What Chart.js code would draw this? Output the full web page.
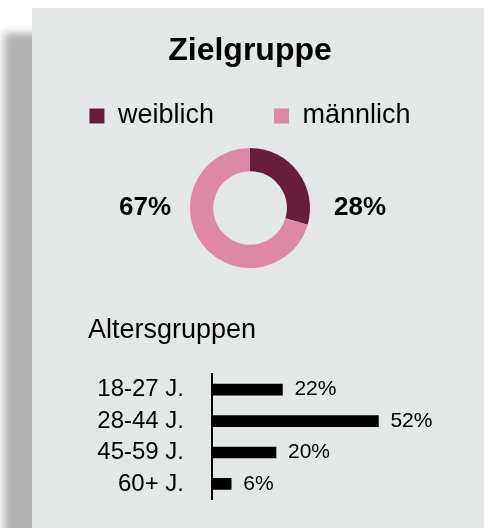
<!DOCTYPE html>
<html>
<head>
<meta charset="utf-8">
<script src="https://cdn.jsdelivr.net/npm/chart.js"></script>
<style>
  body { margin: 0; width: 484px; height: 528px; background: #fff; position: relative; overflow: hidden; }
  #panel { position: absolute; left: 32px; top: 8px; right: 0; bottom: 0; background: #e4e7e8; box-shadow: -28px 25px 8px #b2b2b2; }
  canvas { position: absolute; left: 0; }
  #zielgruppe { top: 0; }
  #alter { top: 290px; }
</style>
</head>
<body>
<div id="panel"></div>
<canvas id="zielgruppe" width="484" height="290"></canvas>
<canvas id="alter" width="484" height="252"></canvas>
<script>
// Daten
var geschlechtLabels = ["weiblich", "männlich"];
var geschlechtWerte = [28, 67];
var geschlechtFarben = ["#671e3a", "#de88a8"];

var alterLabels = ["18-27 J.", "28-44 J.", "45-59 J.", "60+ J."];
var alterWerte = [22, 52, 20, 6];

Chart.defaults.font.family = "'Liberation Sans', Arial, sans-serif";
Chart.defaults.color = "#000";

// Prozentwerte links/rechts vom Ring
var ringLabels = {
  id: 'ringLabels',
  afterDraw: function(chart) {
    var arc = chart.getDatasetMeta(0).data[0];
    if (!arc) return;
    var ctx = chart.ctx;
    var werte = chart.data.datasets[0].data;
    ctx.save();
    ctx.font = "bold 26px 'Liberation Sans', Arial, sans-serif";
    ctx.fillStyle = "#000";
    ctx.textBaseline = 'middle';
    ctx.textAlign = 'right';
    ctx.fillText(werte[1] + '%', arc.x - arc.outerRadius - 19, arc.y);
    ctx.textAlign = 'left';
    ctx.fillText(werte[0] + '%', arc.x + arc.outerRadius + 24, arc.y);
    ctx.restore();
  }
};

new Chart(document.getElementById("zielgruppe"), {
  type: 'doughnut',
  data: {
    labels: geschlechtLabels,
    datasets: [{
      data: geschlechtWerte,
      backgroundColor: geschlechtFarben,
      borderWidth: 0,
      hoverOffset: 0,
      radius: 60,
      cutout: 42
    }]
  },
  options: {
    responsive: false,
    animation: false,
    layout: { padding: { left: 16, right: 0, top: 0, bottom: 13.5 } },
    plugins: {
      title: {
        display: true,
        text: 'Zielgruppe',
        color: '#000',
        font: { size: 32, weight: 'bold' },
        padding: { top: 31.8, bottom: -27.7 }
      },
      legend: {
        position: 'top',
        labels: {
          boxWidth: 15,
          boxHeight: 15,
          padding: 60,
          color: '#000',
          font: { size: 27 }
        }
      },
      tooltip: { enabled: false }
    }
  },
  plugins: [ringLabels]
});

// Werte hinter den Balken
var balkenWerte = {
  id: 'balkenWerte',
  afterDatasetsDraw: function(chart) {
    var ctx = chart.ctx;
    var meta = chart.getDatasetMeta(0);
    var werte = chart.data.datasets[0].data;
    ctx.save();
    ctx.font = "21px 'Liberation Sans', Arial, sans-serif";
    ctx.fillStyle = "#000";
    ctx.textAlign = 'left';
    ctx.textBaseline = 'middle';
    meta.data.forEach(function(bar, i) {
      ctx.fillText(werte[i] + '%', bar.x + 12, bar.y);
    });
    ctx.restore();
  }
};

new Chart(document.getElementById("alter"), {
  type: 'bar',
  data: {
    labels: alterLabels,
    datasets: [{
      data: alterWerte,
      backgroundColor: '#000',
      barThickness: 11
    }]
  },
  options: {
    indexAxis: 'y',
    responsive: false,
    animation: false,
    layout: { padding: { left: 88, right: 80, top: 0, bottom: 0 } },
    scales: {
      x: { display: false, min: 0, max: 60 },
      y: {
        grid: { display: false, drawTicks: false },
        border: { display: true, color: '#000', width: 2 },
        ticks: { color: '#000', padding: 28, autoSkip: false, font: { size: 24 } },
        afterFit: function(scale) { scale.width = 124; }
      }
    },
    plugins: {
      title: {
        display: true,
        text: 'Altersgruppen',
        align: 'start',
        color: '#000',
        font: { size: 27, weight: 'normal' },
        padding: { top: 24.4, bottom: 27.2 }
      },
      legend: { display: false },
      tooltip: { enabled: false }
    }
  },
  plugins: [balkenWerte]
});
</script>
</body>
</html>
